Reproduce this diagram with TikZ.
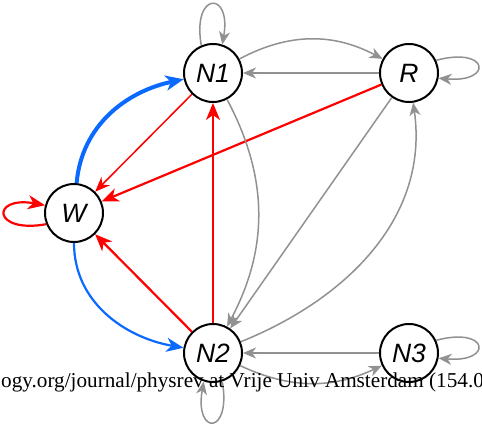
\documentclass[tikz,border=0pt]{standalone}
\usepackage{fontspec}
\setmainfont{Liberation Serif}
\newfontfamily\labfont{Liberation Sans}
\usetikzlibrary{arrows.meta}
\definecolor{mgray}{RGB}{145,145,145}
\definecolor{mred}{RGB}{255,0,0}
\definecolor{mblue}{RGB}{10,105,255}
\begin{document}
\begin{tikzpicture}[x=1pt,y=1pt,
 vert/.style={circle,draw=black,line width=2pt,fill=white,minimum size=58pt,inner sep=0pt,font=\labfont\itshape\fontsize{26.5}{30}\selectfont},
 gedge/.style={draw=mgray,line width=1.5pt,-{Stealth[length=13pt,width=11pt,inset=4pt]}},
 redthin/.style={draw=mred,line width=1.5pt,-{Stealth[length=15pt,width=12pt,inset=5pt]}},
 redthick/.style={draw=mred,line width=2.2pt,-{Stealth[length=17pt,width=14pt,inset=5pt]}},
 bluethick/.style={draw=mblue,line width=4pt,-{Stealth[length=18pt,width=15pt,inset=5pt]}},
 bluethin/.style={draw=mblue,line width=2.2pt,-{Stealth[length=17pt,width=14pt,inset=5pt]}},
 srctext/.style={anchor=base west,inner sep=0pt,font=\fontsize{21.2}{25}\selectfont}
]
\useasboundingbox (0,0) rectangle (482,426);
\clip (0,0) rectangle (482,426);
\node[vert] (N1) at (213,353) {N1};
\node[vert] (R) at (409,353) {R};
\node[vert] (W) at (74,213) {W};
\node[vert] (N2) at (213,73) {N2};
\node[vert] (N3) at (409,73) {N3};
\draw[gedge] (N1.113) .. controls +(100:55) and +(80:55) .. (N1.72);
\draw[gedge] (N1) to[bend left=28] (R);
\draw[gedge] (R) -- (N1);
\draw[gedge] (R.25) .. controls +(15:55) and +(-5:55) .. (R.-10);
\draw[redthick] (R) -- (W);
\draw[redthin] (N1) -- (W);
\draw[bluethick] (W) to[out=85,in=192] (N1);
\draw[redthick] (W.202) .. controls +(190:55) and +(170:55) .. (W.165);
\draw[bluethin] (W) to[out=-90,in=170] (N2);
\draw[redthick] (N2) -- (W);
\draw[redthick] (N2) -- (N1);
\draw[gedge] (N1) to[bend left=28] (N2);
\draw[gedge] (R) -- (N2);
\draw[gedge] (N2) to[out=22,in=-82] (R);
\draw[gedge] (N3) -- (N2);
\draw[gedge] (N2) to[bend right=25] (N3);
\draw[gedge] (N3.25) .. controls +(15:55) and +(-5:55) .. (N3.-10);
\draw[gedge] (N2.-72) .. controls +(-80:55) and +(-100:55) .. (N2.-108);
\node[srctext] (src) at (1,38) {ogy.org/journal/physrev at Vrije Univ Amsterdam (154.0};
\end{tikzpicture}
\end{document}
